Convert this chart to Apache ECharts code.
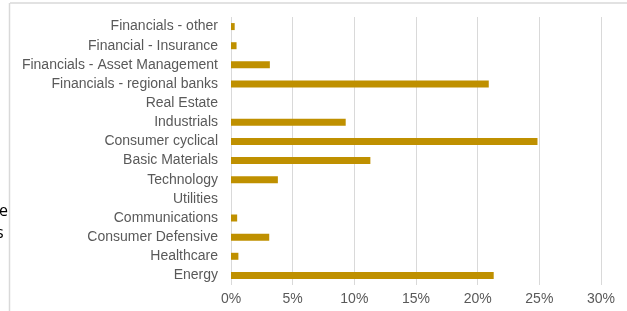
<!DOCTYPE html>
<html>
<head>
<meta charset="utf-8">
<script src="https://cdn.jsdelivr.net/npm/echarts@6/dist/echarts.min.js"></script>
<style>
  html, body { margin: 0; padding: 0; background: #fff; }
  #chart { width: 627px; height: 311px; }
</style>
</head>
<body>
<div id="chart"></div>
<script>
// sectors, listed bottom to top as the axis draws them
var sectors = [
  'Energy', 'Healthcare', 'Consumer Defensive', 'Communications', 'Utilities',
  'Technology', 'Basic Materials', 'Consumer cyclical', 'Industrials', 'Real Estate',
  'Financials - regional banks', 'Financials - Asset Management',
  'Financial - Insurance', 'Financials - other'
];
// share of portfolio, in percent
var weights = [21.3, 0.6, 3.1, 0.5, 0, 3.8, 11.3, 24.85, 9.3, 0, 20.9, 3.15, 0.45, 0.3];
var xTicks = [0, 5, 10, 15, 20, 25, 30];

var chart = echarts.init(document.getElementById('chart'));

chart.setOption({
  animation: false,
  grid: { left: 231, right: 26, top: 17, bottom: 26 },
  xAxis: {
    type: 'value',
    min: xTicks[0],
    max: xTicks[xTicks.length - 1],
    interval: 5,
    axisLine: { show: false },
    axisTick: { show: false },
    splitLine: { lineStyle: { color: '#d9d9d9', width: 1 } },
    axisLabel: {
      formatter: '{value}%',
      color: '#595959',
      fontFamily: 'Liberation Sans, Arial, sans-serif',
      fontSize: 14,
      margin: 7
    }
  },
  yAxis: {
    type: 'category',
    data: sectors,
    axisLine: { show: false },
    axisTick: { show: false },
    axisLabel: {
      color: '#595959',
      fontFamily: 'Liberation Sans, Arial, sans-serif',
      fontSize: 14,
      margin: 13
    }
  },
  series: [{
    type: 'bar',
    data: weights,
    barWidth: 7,
    itemStyle: { color: '#bf9000' }
  }],
  // frame of the chart area and the clipped text behind it
  graphic: [
    { type: 'line', shape: { x1: 10, y1: 3, x2: 627, y2: 3 }, style: { stroke: '#d9d9d9', lineWidth: 1.5 } },
    { type: 'line', shape: { x1: 9.5, y1: 3, x2: 9.5, y2: 311 }, style: { stroke: '#d9d9d9', lineWidth: 1.5 } },
    { type: 'text', left: -1, top: 203, style: { text: 'e', fill: '#000', font: '16px "Open Sans", sans-serif' } },
    { type: 'text', left: -4, top: 225, style: { text: 's', fill: '#000', font: '16px "Open Sans", sans-serif' } }
  ]
});
</script>
</body>
</html>
